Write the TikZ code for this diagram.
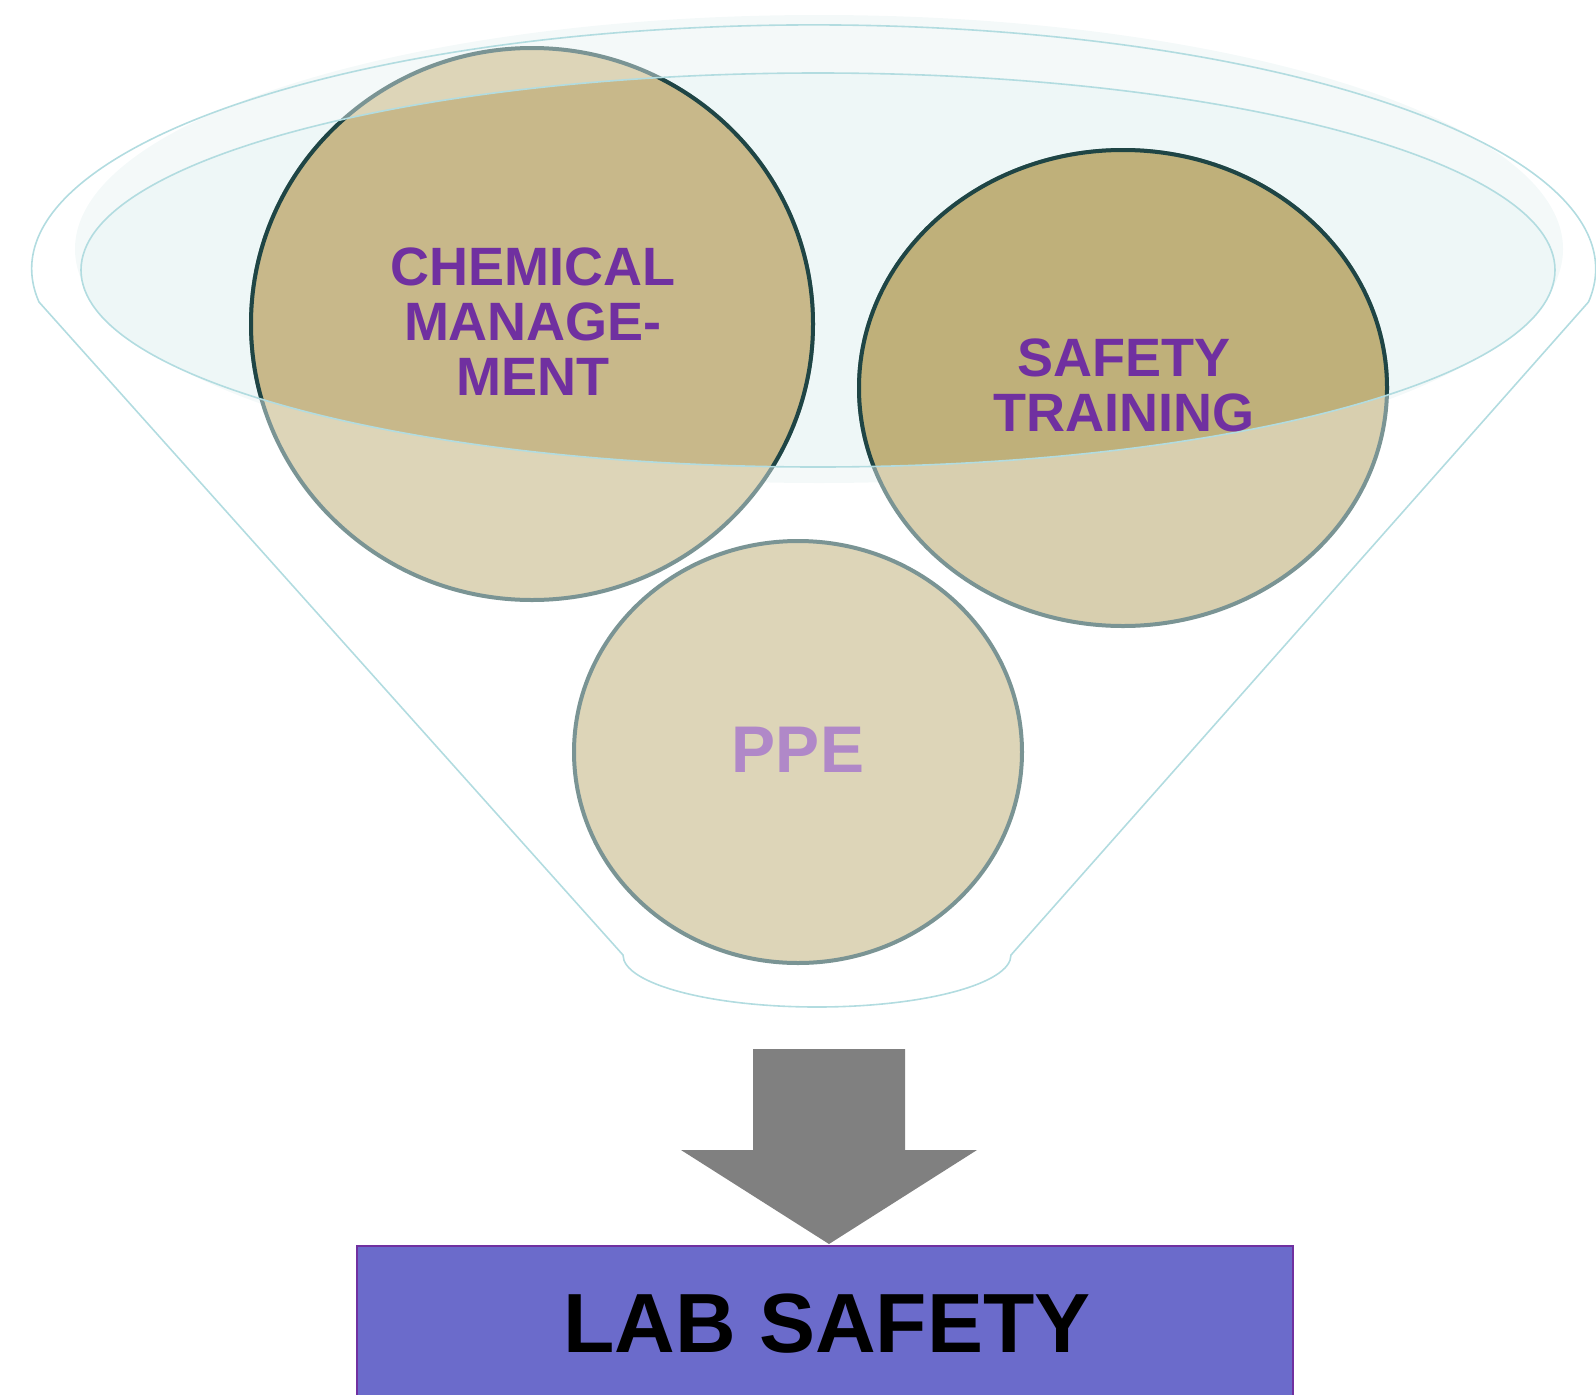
\documentclass[tikz,border=0pt]{standalone}
\usepackage{fontspec}
\setmainfont{Liberation Sans}
\definecolor{rimline}{HTML}{B2DCE0}
\definecolor{softfill}{HTML}{F4F9F9}
\definecolor{mouthfill}{HTML}{EEF7F7}
\definecolor{tanlight}{HTML}{DDD5B8}
\definecolor{tanlightb}{HTML}{D8CFAF}
\definecolor{tandark}{HTML}{C8B88A}
\definecolor{tandarkb}{HTML}{BFB07A}
\definecolor{edgelight}{HTML}{7A9494}
\definecolor{edgedark}{HTML}{1F4545}
\definecolor{txtpurple}{HTML}{7030A0}
\definecolor{txtlilac}{HTML}{B088C8}
\definecolor{boxfill}{HTML}{6B6BCB}
\definecolor{arrowgray}{HTML}{808080}
\begin{document}
\begin{tikzpicture}[x=1pt,y=-1pt,
  funnelline/.style={draw=rimline,line width=1.6pt},
  lighttan/.style={fill=tanlight,draw=edgelight,line width=4pt},
  darktan/.style={fill=tandark,draw=edgedark,line width=4pt},
  labeltxt/.style={text=txtpurple,align=center,font=\bfseries\fontsize{54}{55}\selectfont,inner sep=0pt},
]
\useasboundingbox (0,0) rectangle (1596,1395);
% soft background of funnel top
\fill[softfill] (819,249) ellipse[x radius=744,y radius=234];
\fill[mouthfill] (818,270) ellipse[x radius=737,y radius=197];
% circles, light version (inside funnel body)
\path[lighttan] (532,324) ellipse[x radius=281,y radius=276];
\path[lighttan,fill=tanlightb] (1123,388) ellipse[x radius=264,y radius=238];
\path[lighttan] (798,752) ellipse[x radius=224,y radius=211];
% circles, dark version inside the funnel mouth
\begin{scope}
  \clip (818,270) ellipse[x radius=737,y radius=197];
  \path[darktan] (532,324) ellipse[x radius=281,y radius=276];
  \path[darktan,fill=tandarkb] (1123,388) ellipse[x radius=264,y radius=238];
\end{scope}
% funnel outlines
\draw[funnelline] (818,270) ellipse[x radius=737,y radius=197];
\draw[funnelline] (39,302) arc[start angle=172.2,end angle=367.8,x radius=782,y radius=244]
  -- (1011,955) arc[start angle=0,end angle=180,x radius=194,y radius=52] -- cycle;
% labels
\node[labeltxt] (chem) at (533,322) {CHEMICAL\\MANAGE-\\MENT};
\node[labeltxt] (train) at (1124,385) {SAFETY\\TRAINING};
\node[labeltxt,text=txtlilac,font=\bfseries\fontsize{66}{66}\selectfont] (ppe) at (798,750) {PPE};
% block arrow
\fill[arrowgray] (753,1049) -- (905,1049) -- (905,1150) -- (977,1150) -- (829,1244)
  -- (681,1150) -- (753,1150) -- cycle;
% result box
\draw[fill=boxfill,draw=txtpurple,line width=1.5pt] (357,1246) rectangle (1293,1400);
\node[font=\bfseries\fontsize{84}{84}\selectfont,inner sep=0pt] (lab) at (827,1324) {LAB SAFETY};
\end{tikzpicture}
\end{document}
